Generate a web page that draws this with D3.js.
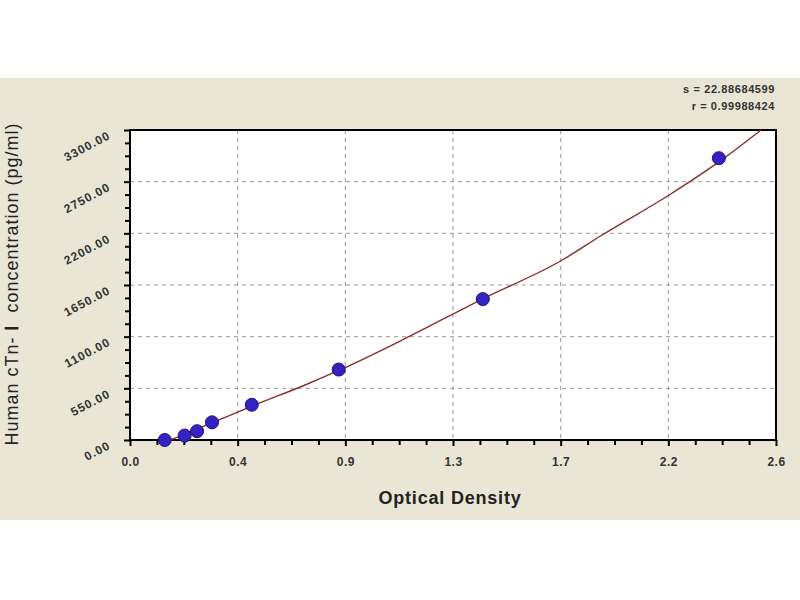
<!DOCTYPE html>
<html>
<head>
<meta charset="utf-8">
<script src="https://cdn.jsdelivr.net/npm/d3@7"></script>
<style>
body { margin: 0; background: #ffffff; }
svg { display: block; font-family: Arial, "Liberation Sans", sans-serif; }
</style>
</head>
<body>
<div id="chart"></div>
<script>
var width = 800
var height = 600

// standards
var standard_od = [0.14, 0.22, 0.27, 0.33, 0.49, 0.84, 1.42, 2.37]
var standard_conc = [0, 47, 94, 188, 375, 750, 1500, 3000]

// fitted curve
var curve_od = [0.16, 0.22, 0.30, 0.40, 0.50, 0.70, 0.84, 1.10, 1.41, 1.74, 1.90, 2.17, 2.37, 2.54]
var curve_conc = [0, 60, 150, 260, 370, 580, 740, 1070, 1490, 1916, 2182, 2608, 2960, 3300]

var x_ticks = [0, 2.6 / 6, 5.2 / 6, 1.3, 10.4 / 6, 13 / 6, 2.6]
var y_ticks = [0, 550, 1100, 1650, 2200, 2750, 3300]

var fit_s = 's = 22.88684599'
var fit_r = 'r = 0.99988424'

var plot_left = 130, plot_right = 776, plot_top = 130, plot_bottom = 440

var x = d3.scaleLinear().domain([0, 2.6]).range([plot_left, plot_right])
var y = d3.scaleLinear().domain([0, 3300]).range([plot_bottom, plot_top])

var svg = d3.select('#chart')
  .append('svg')
  .attr('width', width)
  .attr('height', height)

// beige panel
svg.append('rect')
  .attr('x', 0).attr('y', 78)
  .attr('width', width).attr('height', 442)
  .attr('fill', '#e9e6d6')

svg.append('rect')
  .attr('x', plot_left).attr('y', plot_top)
  .attr('width', plot_right - plot_left).attr('height', plot_bottom - plot_top)
  .attr('fill', '#ffffff')

// grid lines
svg.selectAll('.vgrid')
  .data(x_ticks.slice(1, -1))
  .enter()
  .append('line')
  .attr('x1', function(d) { return x(d) })
  .attr('x2', function(d) { return x(d) })
  .attr('y1', plot_top).attr('y2', plot_bottom)
  .style('stroke', '#999999')
  .style('stroke-width', 1)
  .style('stroke-dasharray', '4,4')

svg.selectAll('.hgrid')
  .data(y_ticks.slice(1, -1))
  .enter()
  .append('line')
  .attr('x1', plot_left).attr('x2', plot_right)
  .attr('y1', function(d) { return y(d) })
  .attr('y2', function(d) { return y(d) })
  .style('stroke', '#999999')
  .style('stroke-width', 1)
  .style('stroke-dasharray', '4,4')

// minor ticks, 4 steps per major interval
var x_minor = []
for (var i = 0; i < 6; i++) {
  for (var j = 1; j < 4; j++) x_minor.push(x_ticks[i] + (x_ticks[i + 1] - x_ticks[i]) * j / 4)
}
var y_minor = []
for (var i = 0; i < 6; i++) {
  for (var j = 1; j < 4; j++) y_minor.push(y_ticks[i] + (y_ticks[i + 1] - y_ticks[i]) * j / 4)
}

var x_axis = svg.append('g')
  .attr('transform', 'translate(0,' + plot_bottom + ')')
  .call(d3.axisBottom(x).tickValues(x_ticks).tickFormat(d3.format('.1f')).tickSize(6).tickPadding(11))
x_axis.append('g')
  .call(d3.axisBottom(x).tickValues(x_minor).tickSize(5).tickFormat(''))
x_axis.selectAll('.domain').remove()
x_axis.selectAll('line').style('stroke', '#000').style('stroke-width', 2)
x_axis.selectAll('text')
  .style('font-size', '12px')
  .style('font-weight', 'bold')
  .style('letter-spacing', '0.5px')
  .attr('fill', '#333')

var y_axis = svg.append('g')
  .attr('transform', 'translate(' + plot_left + ',0)')
  .call(d3.axisLeft(y).tickValues(y_ticks).tickFormat(d3.format('.2f')).tickSize(6).tickPadding(16))
y_axis.append('g')
  .call(d3.axisLeft(y).tickValues(y_minor).tickSize(5).tickFormat(''))
y_axis.selectAll('.domain').remove()
y_axis.selectAll('line').style('stroke', '#000').style('stroke-width', 2)
y_axis.selectAll('text')
  .style('font-size', '12px')
  .style('font-weight', 'bold')
  .style('letter-spacing', '1px')
  .attr('fill', '#333')
  .attr('dy', '0.45em')
  .attr('transform', 'rotate(-28,-16,0)')

// frame
svg.append('rect')
  .attr('x', plot_left).attr('y', plot_top)
  .attr('width', plot_right - plot_left).attr('height', plot_bottom - plot_top)
  .attr('fill', 'none')
  .style('stroke', '#000')
  .style('stroke-width', 2)

// fitted curve
var curve_data = curve_od.map(function(d, i) { return {od: d, conc: curve_conc[i]} })
svg.append('path')
  .datum(curve_data)
  .attr('fill', 'none')
  .style('stroke', '#8a2e2e')
  .style('stroke-width', 1.4)
  .attr('d', d3.line()
    .x(function(d) { return x(d.od) })
    .y(function(d) { return y(d.conc) })
    .curve(d3.curveMonotoneX))

// standards
var standard_data = standard_od.map(function(d, i) { return {od: d, conc: standard_conc[i]} })
svg.selectAll('.pt')
  .data(standard_data)
  .enter()
  .append('circle')
  .attr('cx', function(d) { return x(d.od) })
  .attr('cy', function(d) { return y(d.conc) })
  .attr('r', 6.5)
  .style('fill', '#3522c0')
  .style('stroke', '#1c1080')
  .style('stroke-width', 1)

// titles
svg.append('text')
  .attr('x', (plot_left + plot_right) / 2 - 3)
  .attr('y', 504)
  .text('Optical Density')
  .attr('text-anchor', 'middle')
  .attr('fill', '#222')
  .style('font-weight', 'bold')
  .style('font-size', '18px')
  .style('letter-spacing', '0.8px')

var y_title = svg.append('text')
  .attr('transform', 'translate(18,' + 284 + ') rotate(-90)')
  .attr('text-anchor', 'middle')
  .attr('fill', '#222')
  .style('font-size', '18px')
  .style('letter-spacing', '1px')
y_title.append('tspan').text('Human cTn- ')
y_title.append('tspan').text('\u2160').style('font-weight', 'bold')
y_title.append('tspan').text('  concentration (pg/ml)').attr('xml:space', 'preserve')

svg.append('text')
  .attr('x', 775).attr('y', 93)
  .text(fit_s)
  .attr('text-anchor', 'end')
  .attr('fill', '#333')
  .style('font-weight', 'bold')
  .style('font-size', '11px')
  .style('letter-spacing', '0.6px')

svg.append('text')
  .attr('x', 775).attr('y', 110)
  .text(fit_r)
  .attr('text-anchor', 'end')
  .attr('fill', '#333')
  .style('font-weight', 'bold')
  .style('font-size', '11px')
  .style('letter-spacing', '0.6px')
</script>
</body>
</html>
